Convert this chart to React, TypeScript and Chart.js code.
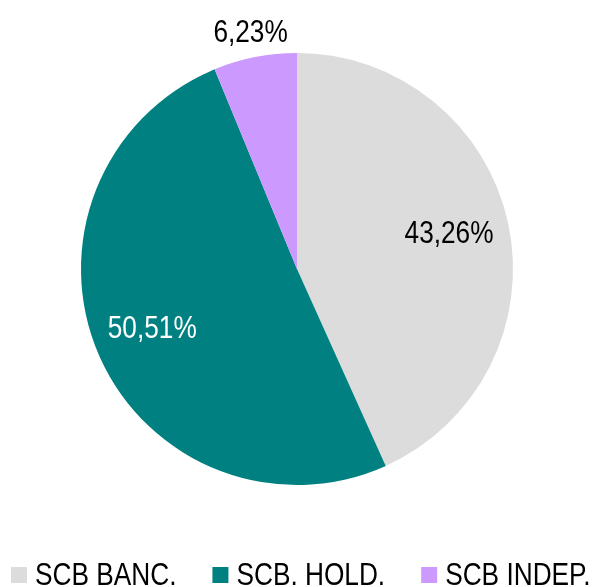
import React, { useEffect, useRef } from "react";
import { Chart, registerables } from "chart.js";

Chart.register(...registerables);

const categories = ["SCB BANC.", "SCB. HOLD.", "SCB INDEP."];
const shares = [43.26, 50.51, 6.23];
const sliceColors = ["#DCDCDC", "#008080", "#CC99FF"];
const labelColors = ["#000000", "#FFFFFF", "#000000"];
const labelRadius = [0.72, 0.73, 1.105];

const FONT = '"Liberation Sans", Arial, sans-serif';
const NARROW = 0.82;

const fmt = (v: number) => v.toFixed(2).replace(".", ",") + "%";

function narrowText(ctx: CanvasRenderingContext2D, text: string, x: number, y: number) {
  ctx.save();
  ctx.translate(x, y);
  ctx.scale(NARROW, 1);
  ctx.fillText(text, 0, 0);
  ctx.restore();
}

const labelPlugin = {
  id: "sliceLabels",
  afterDatasetsDraw(chart: any) {
    const ctx = chart.ctx;
    const meta = chart.getDatasetMeta(0);
    ctx.save();
    ctx.font = `32px ${FONT}`;
    ctx.textAlign = "center";
    ctx.textBaseline = "middle";
    meta.data.forEach((arc: any, i: number) => {
      const { x, y, startAngle, endAngle, outerRadius } = arc.getProps(
        ["x", "y", "startAngle", "endAngle", "outerRadius"],
        true
      );
      const mid = (startAngle + endAngle) / 2;
      const r = outerRadius * labelRadius[i];
      ctx.fillStyle = labelColors[i];
      narrowText(ctx, fmt(shares[i]), x + Math.cos(mid) * r, y + Math.sin(mid) * r - 2);
    });
    ctx.restore();
  },
};

const legendPlugin = {
  id: "customLegend",
  afterDraw(chart: any) {
    const ctx = chart.ctx;
    ctx.save();
    ctx.font = `32px ${FONT}`;
    ctx.textBaseline = "alphabetic";
    ctx.textAlign = "left";
    let x = 11;
    const boxTop = 567;
    const baseline = 585;
    categories.forEach((c, i) => {
      ctx.fillStyle = sliceColors[i];
      ctx.fillRect(x, boxTop, 16, 16);
      x += 16 + 8;
      ctx.fillStyle = "#000000";
      narrowText(ctx, c, x, baseline);
      x += ctx.measureText(c).width * NARROW + 36;
    });
    ctx.restore();
  },
};

export default function App() {
  const ref = useRef<HTMLCanvasElement | null>(null);
  useEffect(() => {
    document.body.style.margin = "0";
    if (!ref.current) return;
    const chart = new Chart(ref.current, {
      type: "pie",
      data: {
        labels: categories,
        datasets: [
          {
            data: shares,
            backgroundColor: sliceColors,
            borderWidth: 0,
          },
        ],
      },
      options: {
        responsive: false,
        animation: false,
        layout: { padding: { top: 53, bottom: 102, left: 0, right: 0 } },
        plugins: {
          legend: { display: false },
          tooltip: { enabled: false },
        },
      },
      plugins: [labelPlugin, legendPlugin],
    });
    return () => chart.destroy();
  }, []);
  return (
    <div style={{ position: "absolute", left: 0, top: 0, width: 594, height: 587 }}>
      <canvas ref={ref} width={594} height={587} />
    </div>
  );
}
